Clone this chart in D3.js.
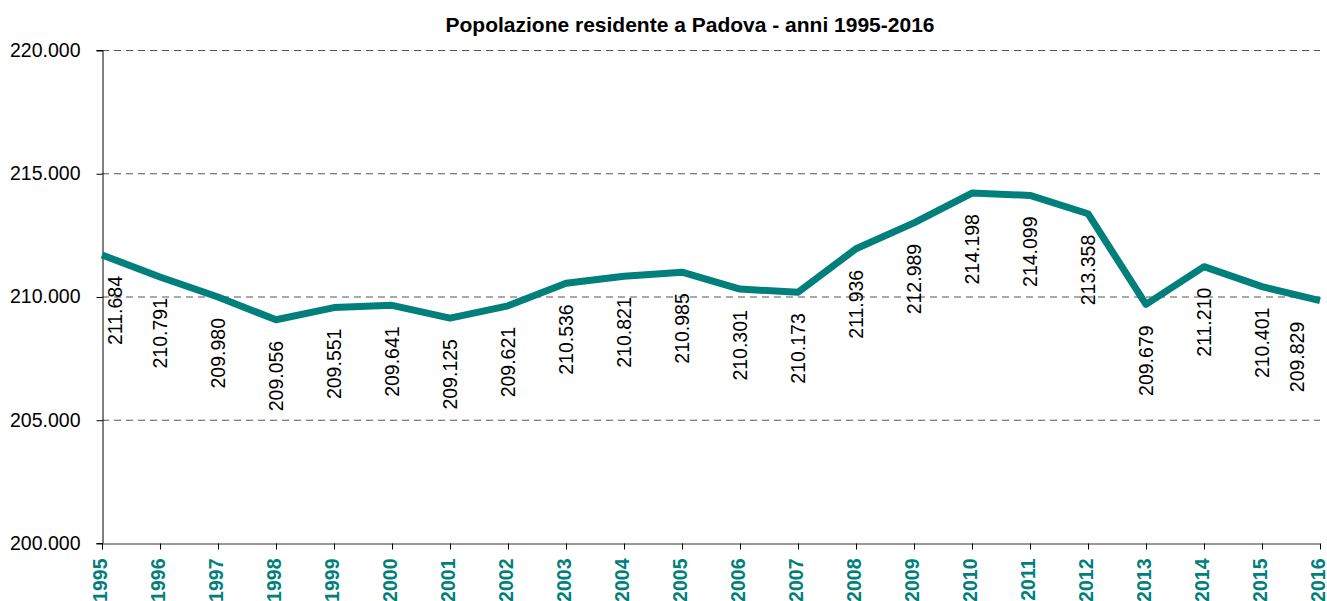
<!DOCTYPE html>
<html>
<head>
<meta charset="utf-8">
<script src="https://cdn.jsdelivr.net/npm/d3@7"></script>
<style>
  body { margin: 0; background: #fff; }
  svg { display: block; font-family: "Liberation Sans", Arial, sans-serif; }
</style>
</head>
<body>
<script>
var w = 1327;
var h = 601;

var years = ['1995', '1996', '1997', '1998', '1999', '2000', '2001', '2002', '2003', '2004', '2005',
  '2006', '2007', '2008', '2009', '2010', '2011', '2012', '2013', '2014', '2015', '2016'];
var residents = [211684, 210791, 209980, 209056, 209551, 209641, 209125, 209621, 210536, 210821, 210985,
  210301, 210173, 211936, 212989, 214198, 214099, 213358, 209679, 211210, 210401, 209829];
var yTicks = [200000, 205000, 210000, 215000, 220000];
var title = 'Popolazione residente a Padova - anni 1995-2016';

var teal = '#007f7b';
var fs = 19.5;

var it = d3.formatLocale({ decimal: ',', thousands: '.', grouping: [3], currency: ['€', ''] });
var fmt = it.format(',.0f');

var data = years.map((y, i) => ({ year: y, value: residents[i] }));

var scaleX = d3.scalePoint()
  .domain(years)
  .range([102, 1320]);

var scaleY = d3.scaleLinear()
  .domain([200000, 220000])
  .range([543, 50]);

var svg = d3.select('body').append('svg')
  .attr('width', w)
  .attr('height', h);

svg.append('text')
  .attr('x', 690)
  .attr('y', 32)
  .attr('text-anchor', 'middle')
  .attr('font-size', 21)
  .attr('font-weight', 'bold')
  .text(title);

// gridlines
svg.append('g')
  .selectAll('line')
  .data(yTicks.filter((d) => d > 200000))
  .join('line')
    .attr('x1', 102)
    .attr('x2', 1320)
    .attr('y1', (d) => scaleY(d) + 0.5)
    .attr('y2', (d) => scaleY(d) + 0.5)
    .attr('stroke', '#555')
    .attr('stroke-dasharray', '7,5');

// y axis
var yAxis = svg.append('g')
  .attr('transform', 'translate(102.5,0)')
  .call(d3.axisLeft(scaleY).tickValues(yTicks).tickFormat(fmt).tickSize(6).tickPadding(16));
yAxis.select('.domain').attr('stroke', '#000');
yAxis.selectAll('.tick line').attr('stroke', '#000').attr('transform', 'translate(0,0.5)');
yAxis.selectAll('.tick text')
  .attr('font-size', fs)
  .attr('font-family', '"Liberation Sans", Arial, sans-serif')
  .attr('fill', '#000');

// x axis
var xAxis = svg.append('g')
  .attr('transform', 'translate(0,543.5)')
  .call(d3.axisBottom(scaleX).tickSize(6).tickSizeOuter(0));
xAxis.select('.domain').attr('stroke', '#777').attr('stroke-width', 1.5);
xAxis.selectAll('.tick line').attr('stroke', '#000');
xAxis.selectAll('.tick text')
  .attr('font-size', fs)
  .attr('font-weight', 'bold')
  .attr('font-family', '"Liberation Sans", Arial, sans-serif')
  .attr('fill', teal)
  .attr('text-anchor', 'end')
  .attr('transform', 'rotate(-90)')
  .attr('x', -15)
  .attr('y', -2)
  .attr('dy', '0.35em');

var line = d3.line()
  .x((d) => scaleX(d.year))
  .y((d) => scaleY(d.value));

svg.append('path')
  .datum(data)
  .attr('fill', 'none')
  .attr('stroke', teal)
  .attr('stroke-width', 7)
  .attr('stroke-linejoin', 'round')
  .attr('d', line);

// labels at the ends are kept inside the plot
var labelX = (d, i) => {
  var x = scaleX(d.year);
  if (i === 0) return x + 13;
  if (i === data.length - 1) return x - 23;
  return x;
};

svg.append('g')
  .selectAll('text')
  .data(data)
  .join('text')
    .attr('transform', (d, i) => 'translate(' + labelX(d, i) + ',' + (scaleY(d.value) + 21) + ') rotate(-90)')
    .attr('text-anchor', 'end')
    .attr('dy', '0.35em')
    .attr('font-size', fs)
    .text((d) => fmt(d.value));
</script>
</body>
</html>
